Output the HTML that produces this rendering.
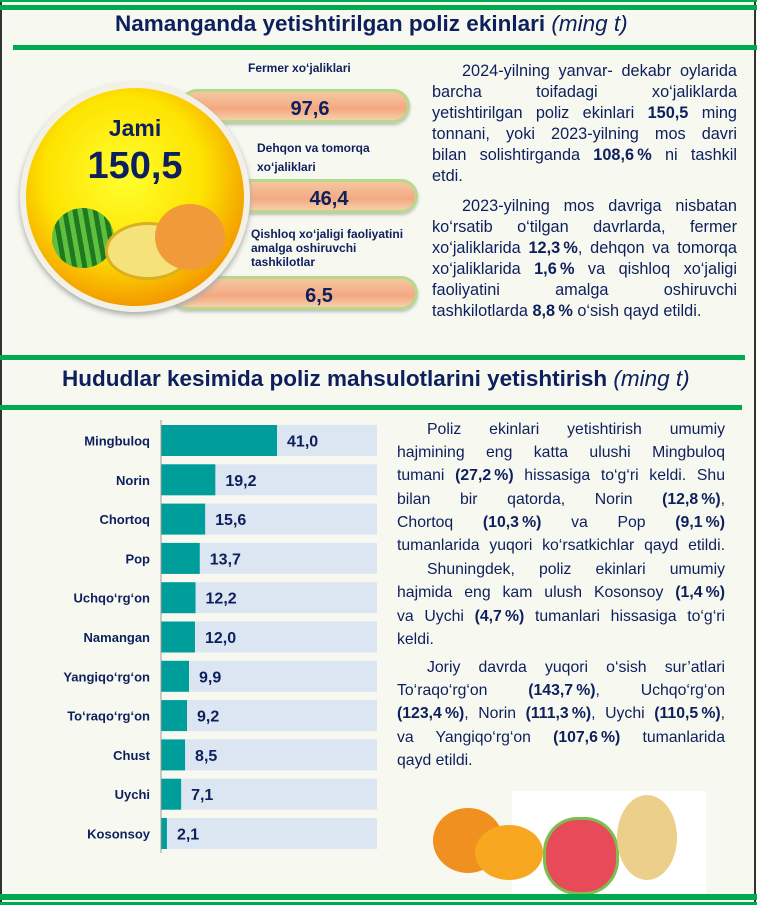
<!DOCTYPE html>
<html><head><meta charset="utf-8"><style>
body{margin:0;width:757px;height:905px;overflow:hidden;background:#f7f9f1;font-family:"Liberation Sans",sans-serif;position:relative}
.abs{position:absolute}
.g{position:absolute;background:#00aa4f}
h1{position:absolute;margin:0;font-size:22.5px;font-weight:bold;color:#0d1f5c;white-space:nowrap}
h1 i{font-weight:normal}
.txt{position:absolute;color:#0d1f5c}
.txt span{display:block;text-align:justify;text-align-last:justify;white-space:nowrap}
.txt span.l{text-align-last:left}
.txt span.i{padding-left:30px}
.txt b{display:inline-block}
.lbl{position:absolute;font-size:12px;font-weight:bold;color:#0d1f5c;line-height:14px}
.pill{position:absolute;height:34px;border-radius:17px;background:linear-gradient(#f6c7a0,#f3a982 60%,#f7cfa9);border:3px solid #b7d98c;box-shadow:0 2px 3px #bbb;font-weight:bold;font-size:20px;color:#0d1f5c;text-align:center;line-height:34px}
</style></head><body>
<div class="abs" style="left:0;top:0;width:2px;height:905px;background:#333"></div>
<div class="abs" style="left:754px;top:0;width:2px;height:905px;background:#333"></div>
<div class="g" style="left:0;top:0;width:757px;height:2px"></div>
<div class="g" style="left:0;top:5px;width:757px;height:5px"></div>
<h1 style="left:115px;top:11px">Namanganda yetishtirilgan poliz ekinlari <i>(ming t)</i></h1>
<div class="g" style="left:13px;top:45px;width:744px;height:5px"></div>

<div class="pill" style="left:180px;top:89px;width:230px;padding-left:30px;box-sizing:border-box">97,6</div>
<div class="pill" style="left:200px;top:179px;width:218px;padding-left:40px;box-sizing:border-box">46,4</div>
<div class="pill" style="left:170px;top:276px;width:248px;padding-left:50px;box-sizing:border-box">6,5</div>
<div class="lbl" style="left:248px;top:61px">Fermer xo‘jaliklari</div>
<div class="lbl" style="left:257px;top:139px;line-height:19px">Dehqon va tomorqa<br>xo‘jaliklari</div>
<div class="lbl" style="left:251px;top:227px">Qishloq xo‘jaligi faoliyatini<br>amalga oshiruvchi<br>tashkilotlar</div>

<div class="abs" style="left:20px;top:82px;width:230px;height:230px;border-radius:50%;background:#f3f1e6;box-shadow:0 3px 6px #aaa">
 <div class="abs" style="left:6px;top:6px;width:218px;height:218px;border-radius:50%;background:radial-gradient(circle at 45% 40%,#ffff30 0%,#fde300 45%,#f28a00 80%,#a11000 100%)"></div>
</div>
<div class="abs" style="left:80px;top:115px;width:110px;text-align:center;font-weight:bold;font-size:23px;color:#0d1f5c">Jami</div>
<div class="abs" style="left:60px;top:145px;width:150px;text-align:center;font-weight:bold;font-size:38px;color:#0d1f5c">150,5</div>
<div class="abs" style="left:52px;top:208px;width:62px;height:60px;border-radius:50%;background:repeating-linear-gradient(80deg,#1f7a1f 0 5px,#5fbf3f 5px 10px)"></div>
<div class="abs" style="left:105px;top:222px;width:80px;height:52px;border-radius:50%;background:#f5e27a;border:3px solid #d8b020"></div>
<div class="abs" style="left:155px;top:204px;width:70px;height:66px;border-radius:50%;background:#f09a3a"></div>

<div class="txt" style="left:432px;top:61px;width:305px;line-height:21px;font-size:16.3px">
<span class="i">2024-yilning yanvar- dekabr oylarida</span>
<span>barcha toifadagi xo‘jaliklarda</span>
<span>yetishtirilgan poliz ekinlari <b>150,5</b> ming</span>
<span>tonnani, yoki 2023-yilning mos davri</span>
<span>bilan solishtirganda <b>108,6&#8239;%</b> ni tashkil</span>
<span class="l">etdi.</span>
<div style="height:9px"></div>
<span class="i">2023-yilning mos davriga nisbatan</span>
<span>ko‘rsatib o‘tilgan davrlarda, fermer</span>
<span>xo‘jaliklarida <b>12,3&#8239;%</b>, dehqon va tomorqa</span>
<span>xo‘jaliklarida <b>1,6&#8239;%</b> va qishloq xo‘jaligi</span>
<span>faoliyatini amalga oshiruvchi</span>
<span class="l">tashkilotlarda <b>8,8&#8239;%</b> o‘sish qayd etildi.</span>
</div>

<div class="g" style="left:0;top:355px;width:745px;height:5px"></div>
<h1 style="left:62px;top:366px">Hududlar kesimida poliz mahsulotlarini yetishtirish <i>(ming t)</i></h1>
<div class="g" style="left:0;top:405px;width:742px;height:5px"></div>

<svg class="abs" style="left:0;top:410px" width="420" height="450" id="chart"></svg>

<div class="txt" style="left:397px;top:418px;width:328px;line-height:23.2px;font-size:15.8px">
<span class="i">Poliz ekinlari yetishtirish umumiy</span>
<span>hajmining eng katta ulushi Mingbuloq</span>
<span>tumani <b>(27,2&#8239;%)</b> hissasiga to‘g‘ri keldi. Shu</span>
<span>bilan bir qatorda, Norin <b>(12,8&#8239;%)</b>,</span>
<span>Chortoq <b>(10,3&#8239;%)</b> va Pop <b>(9,1&#8239;%)</b></span>
<span>tumanlarida yuqori ko‘rsatkichlar qayd etildi.</span>
<div style="height:1px"></div>
<span class="i">Shuningdek, poliz ekinlari umumiy</span>
<span>hajmida eng kam ulush Kosonsoy <b>(1,4&#8239;%)</b></span>
<span>va Uychi <b>(4,7&#8239;%)</b> tumanlari hissasiga to‘g‘ri</span>
<span class="l">keldi.</span>
<div style="height:5px"></div>
<span class="i">Joriy davrda yuqori o‘sish sur’atlari</span>
<span>To‘raqo‘rg‘on <b>(143,7&#8239;%)</b>, Uchqo‘rg‘on</span>
<span><b>(123,4&#8239;%)</b>, Norin <b>(111,3&#8239;%)</b>, Uychi <b>(110,5&#8239;%)</b>,</span>
<span>va Yangiqo‘rg‘on <b>(107,6&#8239;%)</b> tumanlarida</span>
<span class="l">qayd etildi.</span>
</div>

<div class="abs" style="left:512px;top:791px;width:194px;height:104px;background:#fff"></div>
<div class="abs" style="left:433px;top:808px;width:70px;height:65px;border-radius:50%;background:#f09020"></div>
<div class="abs" style="left:475px;top:825px;width:68px;height:55px;border-radius:50%;background:#f7a820"></div>
<div class="abs" style="left:543px;top:817px;width:70px;height:72px;border-radius:45%;background:#e84a5a;border:3px solid #7cbf50"></div>
<div class="abs" style="left:617px;top:795px;width:60px;height:85px;border-radius:50%;background:#eccf8a"></div>

<div class="g" style="left:0;top:894px;width:757px;height:6px"></div>
<div class="g" style="left:0;top:902px;width:757px;height:3px"></div>

<script>
const regions=["Mingbuloq","Norin","Chortoq","Pop","Uchqo‘rg‘on","Namangan","Yangiqo‘rg‘on","To‘raqo‘rg‘on","Chust","Uychi","Kosonsoy"];
const values=[41.0,19.2,15.6,13.7,12.2,12.0,9.9,9.2,8.5,7.1,2.1];
const valueLabels=["41,0","19,2","15,6","13,7","12,2","12,0","9,9","9,2","8,5","7,1","2,1"];
const svg=document.getElementById('chart');
const NS='http://www.w3.org/2000/svg';
const x0=161, bgRight=377, scale=2.83;
const xPos=v=>x0+v*scale;
const rowTop=i=>15+i*39.3;
const rowH=31;
function mk(t,a){const e=document.createElementNS(NS,t);for(const k in a)e.setAttribute(k,a[k]);svg.appendChild(e);return e;}
regions.forEach((r,i)=>{
 const bg=mk('rect',{x:x0,y:rowTop(i),width:bgRight-x0,height:rowH,fill:'#dce5f2'});
 
 
 const b=mk('rect',{x:x0,y:rowTop(i),width:xPos(values[i])-x0,height:rowH,fill:'#009e9a'});
 
 
 const l=mk('text',{x:150,y:rowTop(i)+rowH/2+5,'text-anchor':'end','font-size':'13','font-weight':'bold',fill:'#0d1f5c','font-family':'Liberation Sans'});
 l.textContent=r;
 
 
 const v=mk('text',{x:xPos(values[i])+10,y:rowTop(i)+rowH/2+6,'font-size':'16','font-weight':'bold',fill:'#0d1f5c','font-family':'Liberation Sans'});
 v.textContent=valueLabels[i];
 
 
});
const ax=mk('line',{x1:x0,y1:10,x2:x0,y2:rowTop(10)+rowH+4,stroke:'#999','stroke-width':1});


</script>
</body></html>
